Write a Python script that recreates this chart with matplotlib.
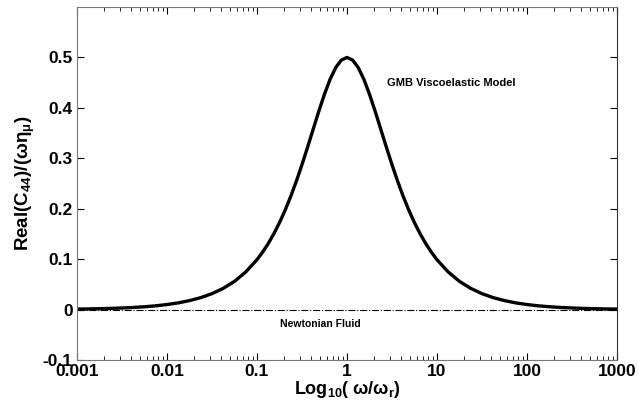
import matplotlib
matplotlib.use("Agg")
import matplotlib.pyplot as plt
from matplotlib.ticker import LogLocator, NullFormatter

plt.rcParams['font.family'] = ['Liberation Sans', 'DejaVu Sans']
plt.rcParams['mathtext.fontset'] = 'custom'
plt.rcParams['mathtext.rm'] = 'Liberation Sans:bold'
plt.rcParams['mathtext.it'] = 'Liberation Sans:bold'
plt.rcParams['mathtext.bf'] = 'Liberation Sans:bold'

# frequency ratio w/wr (log10 steps) and Real(C44)/(w eta), left half
log_w = [-3, -2.875, -2.75, -2.625, -2.5, -2.375, -2.25, -2.125,
         -2, -1.875, -1.75, -1.625, -1.5, -1.375, -1.25, -1.125,
         -1, -0.9375, -0.875, -0.8125, -0.75, -0.6875, -0.625, -0.5625,
         -0.5, -0.4375, -0.375, -0.3125, -0.25, -0.1875, -0.125, -0.0625, 0]
half = [0.001, 0.00133, 0.00178, 0.00237, 0.00316, 0.00422, 0.00562, 0.0075,
        0.0100, 0.0133, 0.0178, 0.0237, 0.0316, 0.0421, 0.0560, 0.0746,
        0.0990, 0.1140, 0.1310, 0.1504, 0.1724, 0.1970, 0.2245, 0.2547,
        0.2875, 0.3222, 0.3580, 0.3936, 0.4272, 0.4568, 0.4800, 0.4949, 0.5]
w = [10 ** v for v in log_w] + [10 ** -v for v in log_w[-2::-1]]
gmb = half + half[-2::-1]
newton = [0.0, 0.0]
newton_w = [0.001, 1000]

fig = plt.figure(figsize=(6.38, 4.15), dpi=100)
ax = fig.add_axes([0.1207, 0.1325, 0.8463, 0.8505])
ax.semilogx(w, gmb, color='black', lw=2.4, solid_joinstyle='round')
ax.semilogx(newton_w, newton, color='black', lw=0.8, ls='-.')

ax.set_xlim(0.001, 1000)
ax.set_ylim(-0.1, 0.6)
ax.set_yticks([-0.1, 0, 0.1, 0.2, 0.3, 0.4, 0.5])
ax.set_yticklabels(['-0.1', '0', '0.1', '0.2', '0.3', '0.4', '0.5'])
ax.set_xticks([0.001, 0.01, 0.1, 1, 10, 100, 1000])
ax.set_xticklabels(['0.001', '0.01', '0.1', '1', '10', '100', '1000'])
ax.xaxis.set_minor_locator(LogLocator(base=10, subs=range(2, 10), numticks=20))
ax.xaxis.set_minor_formatter(NullFormatter())
ax.tick_params(which='both', direction='in', top=True, right=True, labelsize=12.5, pad=3)
ax.tick_params(which='major', length=5)
ax.tick_params(which='minor', length=3)
for lab in ax.get_xticklabels() + ax.get_yticklabels():
    lab.set_fontweight('bold')
for s in ax.spines.values():
    s.set_color('#777777')
ax.spines['right'].set_color('#333333')

ax.set_xlabel(r'Log$_{10}$( $\omega$/$\omega_r$)', fontsize=13, fontweight='bold', labelpad=0)
ax.set_ylabel(r'Real(C$_{44}$)/($\omega\eta_\mu$)', fontsize=13.5, fontweight='bold', labelpad=4)

ax.text(2.78, 0.449, 'GMB Viscoelastic Model', fontsize=8, fontweight='bold', va='center')
ax.text(0.5, -0.028, 'Newtonian Fluid', fontsize=7.5, fontweight='bold', ha='center', va='center')

fig.savefig('out.png', dpi=100)
